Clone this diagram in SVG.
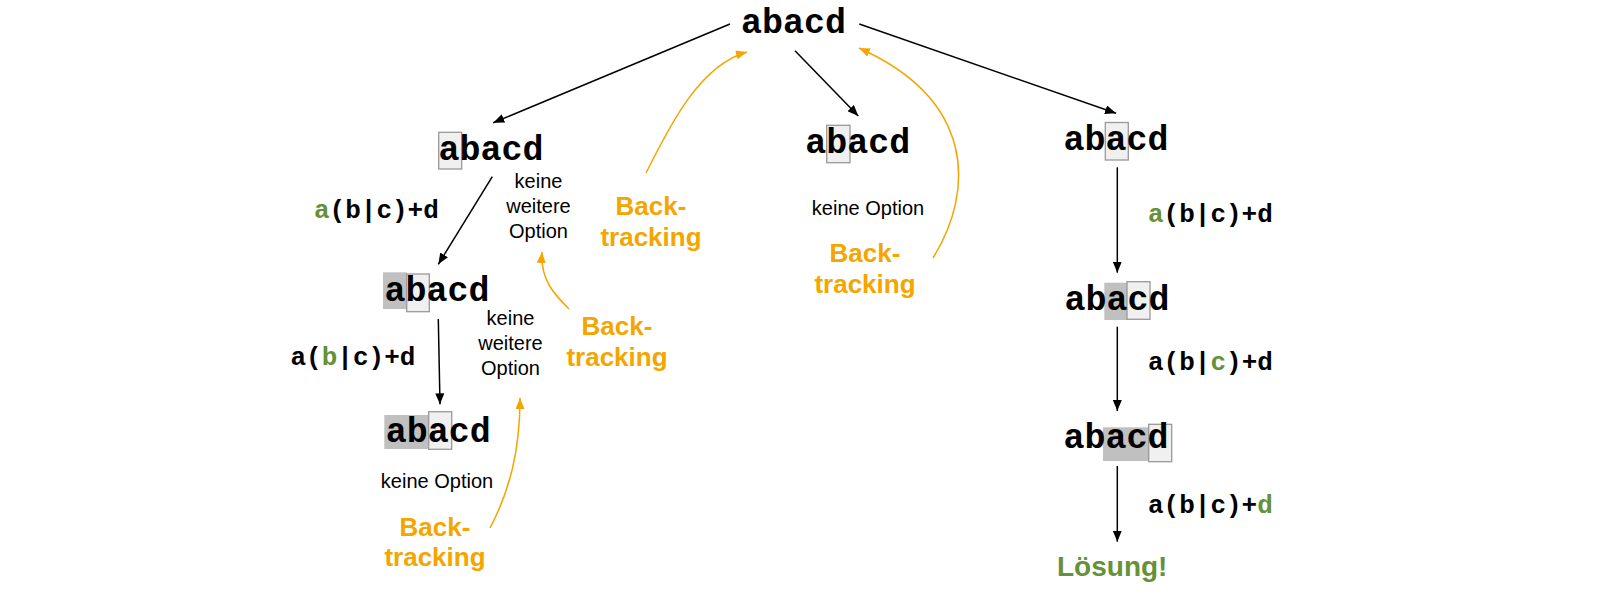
<svg xmlns="http://www.w3.org/2000/svg" width="1619" height="595" viewBox="0 0 1619 595">
<defs>
<style>
.mono{font-family:"Liberation Mono","Courier New",monospace;font-weight:bold;fill:#000}
.big{font-size:35px}
.lbl{font-size:26px}
.g{fill:#64913a}
.note{font-family:"Liberation Sans",Arial,sans-serif;font-size:20px;fill:#000;text-anchor:middle}
.bt{font-family:"Liberation Sans",Arial,sans-serif;font-size:26px;font-weight:bold;fill:#f5a500;text-anchor:middle}
.sol{font-family:"Liberation Sans",Arial,sans-serif;font-size:28px;font-weight:bold;fill:#64913a}
.hl{fill:#f0f0f0;stroke:#999;stroke-width:1.3}
.done{fill:#c0c0c0}
.edge{fill:none;stroke:#000;stroke-width:1.5;marker-end:url(#ab)}
.back{fill:none;stroke:#f5a500;stroke-width:1.5;marker-end:url(#ao)}
</style>
<marker id="ab" markerUnits="userSpaceOnUse" markerWidth="11" markerHeight="9" refX="11" refY="4.5" orient="auto"><path d="M0,0 L11,4.5 L0,9 z" fill="#000"/></marker>
<marker id="ao" markerUnits="userSpaceOnUse" markerWidth="11" markerHeight="9" refX="11" refY="4.5" orient="auto"><path d="M0,0 L11,4.5 L0,9 z" fill="#f5a500"/></marker>
</defs>
<rect width="1619" height="595" fill="#fff"/>

<g id="connectors">
<path class="edge" d="M730,24 L493.3,122.7"/>
<path class="edge" d="M795,50.7 L858.3,116"/>
<path class="edge" d="M859.3,24 L1116,113.3"/>
<path class="edge" d="M492.3,176.7 L438.3,264.3"/>
<path class="edge" d="M438.3,319 L440,404.3"/>
<path class="edge" d="M1117.3,167.3 L1117.3,272.7"/>
<path class="edge" d="M1117.3,326.7 L1117.3,411"/>
<path class="edge" d="M1117.3,466 L1117.3,541.7"/>
<path class="back" d="M646,173 C670,125 700,65 747,52"/>
<path class="back" d="M933,258 C975,190 975,100 859,48"/>
<path class="back" d="M569,309 C555,295 540,280 542,252"/>
<path class="back" d="M490,528 C510,490 520,450 520,398"/>
</g>

<g id="root">
<text class="mono big" x="741" y="33">abacd</text>
</g>

<g id="n1">
<rect class="hl" x="438.7" y="132.3" width="23" height="36.7"/>
<text class="mono big" x="438.5" y="160">abacd</text>
</g>
<g id="n1-label">
<text class="mono lbl" x="314" y="218"><tspan class="g">a</tspan>(b|c)+d</text>
</g>
<g id="n1-note">
<text class="note" x="538.5" y="188.3">keine</text>
<text class="note" x="538.5" y="213.3">weitere</text>
<text class="note" x="538.5" y="237.7">Option</text>
</g>
<g id="bt1">
<text class="bt" x="651" y="215">Back-</text>
<text class="bt" x="651" y="245.5">tracking</text>
</g>

<g id="n2">
<rect class="done" x="383" y="272.3" width="23.7" height="36.7"/>
<rect class="hl" x="406.7" y="274" width="22.6" height="37.7"/>
<text class="mono big" x="384.5" y="301">abacd</text>
</g>
<g id="n2-label">
<text class="mono lbl" x="290.5" y="365">a(<tspan class="g">b</tspan>|c)+d</text>
</g>
<g id="n2-note">
<text class="note" x="510.5" y="325">keine</text>
<text class="note" x="510.5" y="350">weitere</text>
<text class="note" x="510.5" y="375">Option</text>
</g>
<g id="bt2">
<text class="bt" x="617" y="335">Back-</text>
<text class="bt" x="617" y="366">tracking</text>
</g>

<g id="n3">
<rect class="done" x="384.3" y="415" width="44.4" height="34"/>
<rect class="hl" x="428.7" y="411.7" width="23" height="37.6"/>
<text class="mono big" x="385.8" y="441.7">abacd</text>
</g>
<g id="n3-note">
<text class="note" x="437" y="488.3">keine Option</text>
</g>
<g id="bt3">
<text class="bt" x="435" y="535.7">Back-</text>
<text class="bt" x="435" y="566">tracking</text>
</g>

<g id="m1">
<rect class="hl" x="826.7" y="125.3" width="23.3" height="37.4"/>
<text class="mono big" x="805.2" y="152.7">abacd</text>
</g>
<g id="m1-note">
<text class="note" x="868" y="215">keine Option</text>
</g>
<g id="bt4">
<text class="bt" x="865" y="261.7">Back-</text>
<text class="bt" x="865" y="293">tracking</text>
</g>

<g id="r1">
<rect class="hl" x="1105.3" y="122.5" width="23" height="37.5"/>
<text class="mono big" x="1063.5" y="150">abacd</text>
</g>
<g id="r1-label">
<text class="mono lbl" x="1148" y="221.7"><tspan class="g">a</tspan>(b|c)+d</text>
</g>
<g id="r2">
<rect class="done" x="1104.3" y="282.7" width="22.7" height="37.3"/>
<rect class="hl" x="1127" y="281.7" width="23" height="37.6"/>
<text class="mono big" x="1064.5" y="310">abacd</text>
</g>
<g id="r2-label">
<text class="mono lbl" x="1148" y="370">a(b|<tspan class="g">c</tspan>)+d</text>
</g>
<g id="r3">
<rect class="done" x="1103" y="427.3" width="45.7" height="33.7"/>
<rect class="hl" x="1148.7" y="424.3" width="23" height="37.4"/>
<text class="mono big" x="1063.5" y="448.3">abacd</text>
</g>
<g id="r3-label">
<text class="mono lbl" x="1148" y="513.3">a(b|c)+<tspan class="g">d</tspan></text>
</g>
<g id="solution">
<text class="sol" x="1057" y="575.7">Lösung!</text>
</g>
</svg>
